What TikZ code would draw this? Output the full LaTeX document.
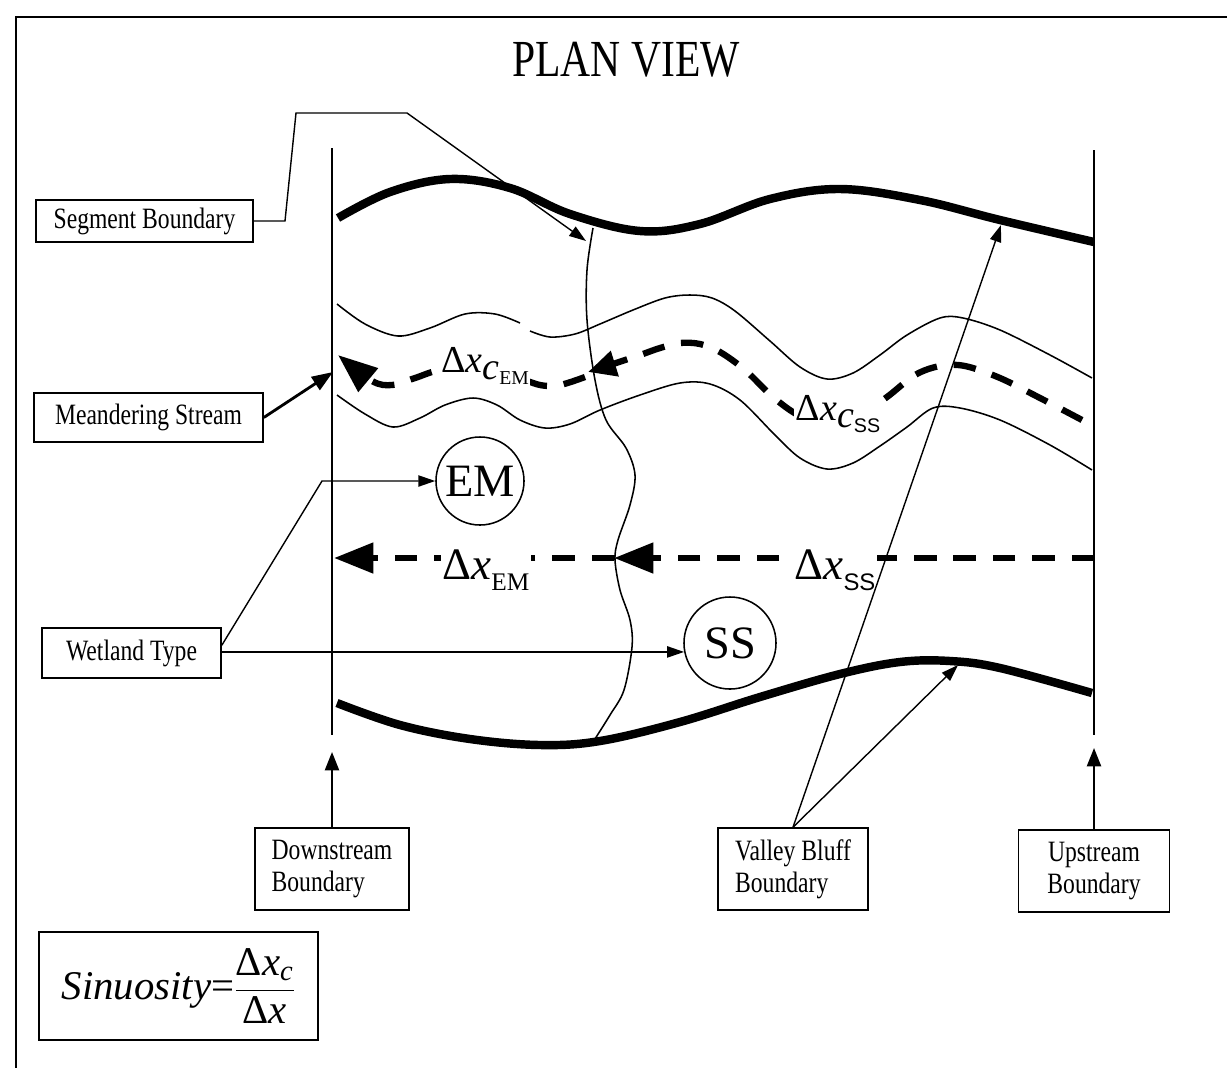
\documentclass[tikz,border=0pt]{standalone}
\usepackage{fontspec}
\usepackage{amsmath}
\setmainfont{Liberation Serif}
\newfontfamily\cond{Liberation Serif}[FakeStretch=0.8]
\newfontfamily\sansf{Liberation Sans}
\usetikzlibrary{arrows.meta,calc}

\tikzset{
  frameline/.style={line width=2.1pt},
  thinline/.style={line width=1.1pt},
  bluff/.style={line width=6pt, line cap=butt},
  flow/.style={line width=4.5pt, dash pattern=on 16pt off 12pt},
  bigtip/.style={-{Triangle[length=28pt,width=21pt]}},
  midtip/.style={-{Triangle[length=20pt,width=18pt]}},
  leader/.style={line width=1pt, -{Triangle[length=12pt,width=8pt]}},
  pointer/.style={line width=1.4pt, -{Triangle[length=13pt,width=10pt]}},
  boxlbl/.style={draw, line width=1.1pt, inner sep=0pt, font=\cond\fontsize{21}{23}\selectfont},
  wtype/.style={circle, draw, line width=1.1pt, inner sep=0pt, font=\fontsize{33}{33}\selectfont},
  curlbl/.style={fill=white, inner sep=1pt, font=\fontsize{27}{27}\selectfont},
  strlbl/.style={fill=white, inner sep=1pt, font=\fontsize{32}{32}\selectfont},
}

\begin{document}
\begin{tikzpicture}[x=0.025cm, y=-0.025cm]
\useasboundingbox (0,0) rectangle (1227,1067);

% outer frame (open on the right and bottom)
\draw[frameline] (16,1090) -- (16,17) -- (1250,17);

% title
\node[font=\cond\fontsize{37}{40}\selectfont] (title) at (626,60) {PLAN VIEW};

% valley bluff boundaries
\draw[bluff] plot[smooth, tension=0.6] coordinates {(338,218) (390,192) (450,179) (510,188) (570,214) (640,231) (700,224) (770,199) (840,189) (920,200) (1000,220) (1094,242)};
\draw[bluff] plot[smooth, tension=0.6] coordinates {(337,703) (400,725) (470,739) (540,745) (600,741) (680,722) (760,697) (840,674) (900,662) (950,661) (1000,668) (1092,693)};

% downstream and upstream boundaries
\draw[thinline] (332,148) -- (332,735);
\draw[thinline] (1094,150) -- (1094,735);

% boundary between the two wetland segments
\draw[thinline] plot[smooth, tension=0.55] coordinates {(593,228) (587,270) (587,320) (595,380) (606,420) (626,448) (635,475) (630,505) (618,540) (615,560) (620,590) (630,620) (632,647) (624,690) (610,715) (593,742)};

% stream banks
\draw[thinline] plot[smooth, tension=0.55] coordinates {(337,304) (365,324) (398,336) (430,328) (465,314) (495,314) (520,323)};
\draw[thinline] plot[smooth, tension=0.55] coordinates {(530,331) (550,337) (575,334) (600,324) (633,310) (665,298) (690,295) (712,298) (735,311) (770,341) (800,367) (827,379) (853,373) (880,355) (907,335) (940,318) (963,318) (1000,330) (1050,355) (1092,378)};
\draw[thinline] plot[smooth, tension=0.55] coordinates {(337,395) (365,414) (393,427) (420,418) (445,405) (473,398) (497,405) (520,420) (545,428) (570,424) (600,410) (640,395) (680,383) (710,384) (740,400) (775,435) (800,458) (827,469) (853,463) (880,446) (907,427) (933,408) (960,408) (1000,420) (1050,445) (1092,470)};

% stream centreline, flowing downstream
\draw[flow, midtip] plot[smooth, tension=0.55] coordinates {(1082,420) (1040,398) (1000,378) (965,366) (940,366) (915,375) (887,397) (860,415) (830,424) (800,416) (773,397) (745,370) (720,352) (700,344) (680,343) (660,348) (640,355) (610,365) (588,372)};
\draw[flow, bigtip] plot[smooth, tension=0.55] coordinates {(585,377) (560,385) (540,385) (510,375) (475,368) (440,370) (415,378) (392,385) (372,381) (338,355)};

% straight valley line
\coordinate (vR) at (1094,558);
\coordinate (vM) at (614,558);
\coordinate (vL) at (334,558);
\draw[flow, bigtip] (vR) -- (vM);
\draw[flow, bigtip] (vM) -- (vL);

% length labels
\node[curlbl] (dxcem) at (485,366) {Δ\textit{x}\raisebox{-5pt}{\textit{c}\raisebox{-4pt}{\fontsize{14}{14}\selectfont EM}}};
\node[curlbl] (dxcss) at (838,414) {Δ\textit{x}\raisebox{-5pt}{\textit{c}\raisebox{-4pt}{\sansf\fontsize{14}{14}\selectfont SS}}};
\node[strlbl] (dxem) at (486,570) {Δ\textit{x}\raisebox{-8pt}{\fontsize{18}{18}\selectfont EM}};
\node[strlbl] (dxss) at (835,570) {Δ\textit{x}\raisebox{-8pt}{\sansf\fontsize{17}{17}\selectfont SS}};

% wetland types
\node[wtype, minimum size=2.2cm] (em) at (480,481) {EM};
\node[wtype, minimum size=2.3cm] (ss) at (730,643) {SS};

% callout boxes
\node[boxlbl, minimum width=5.425cm, minimum height=1.05cm] (segbox) at (144.5,221) {Segment Boundary};
\node[boxlbl, minimum width=5.725cm, minimum height=1.225cm] (meanbox) at (148.5,417.5) {Meandering Stream};
\node[boxlbl, minimum width=4.475cm, minimum height=1.25cm] (wetbox) at (131.5,653) {Wetland Type};
\node[boxlbl, align=left, minimum width=3.85cm, minimum height=2.05cm] (downbox) at (332,869) {Downstream\\Boundary};
\node[boxlbl, align=left, minimum width=3.75cm, minimum height=2.05cm] (bluffbox) at (793,869) {Valley Bluff\\Boundary};
\node[boxlbl, align=center, minimum width=3.775cm, minimum height=2.05cm] (upbox) at (1094,871) {Upstream\\Boundary};

% sinuosity definition
\node[draw, line width=1.1pt, inner sep=0pt, minimum width=6.975cm, minimum height=2.7cm, font=\fontsize{29}{31}\selectfont] (sinbox) at (178.5,986)
  {\textit{Sinuosity}=$\dfrac{\text{Δ\textit{x}}_{\text{\textit{c}}}}{\text{Δ\textit{x}}}$};

% leader lines
\coordinate (segk1) at (285,221);
\coordinate (segk2) at (296,113);
\coordinate (segk3) at (407,113);
\coordinate (segtip) at (586,241);
\draw[leader] (segbox.east) -- (segk1) -- (segk2) -- (segk3) -- (segtip);

\coordinate (mstip) at (333,372);
\draw[line width=2pt, -{Triangle[length=15pt,width=11pt]}] (meanbox.east) -- (mstip);

\coordinate (wtA) at ($(wetbox.north east)!0.35!(wetbox.south east)$);
\coordinate (wtB) at (322,481);
\draw[leader] (wtA) -- (wtB) -- (em.west);
\draw[leader] (ss.191 -| wetbox.east) -- (ss.191);

\coordinate (vbA) at (1001,225);
\coordinate (vbB) at (958,665);
\draw[leader] (bluffbox.north) -- (vbA);
\draw[leader] (bluffbox.north) -- (vbB);

\coordinate (dstip) at (332,752);
\coordinate (ustip) at (1094,748);
\draw[pointer] (downbox.north) -- (dstip);
\draw[pointer] (upbox.north) -- (ustip);
\end{tikzpicture}
\end{document}
